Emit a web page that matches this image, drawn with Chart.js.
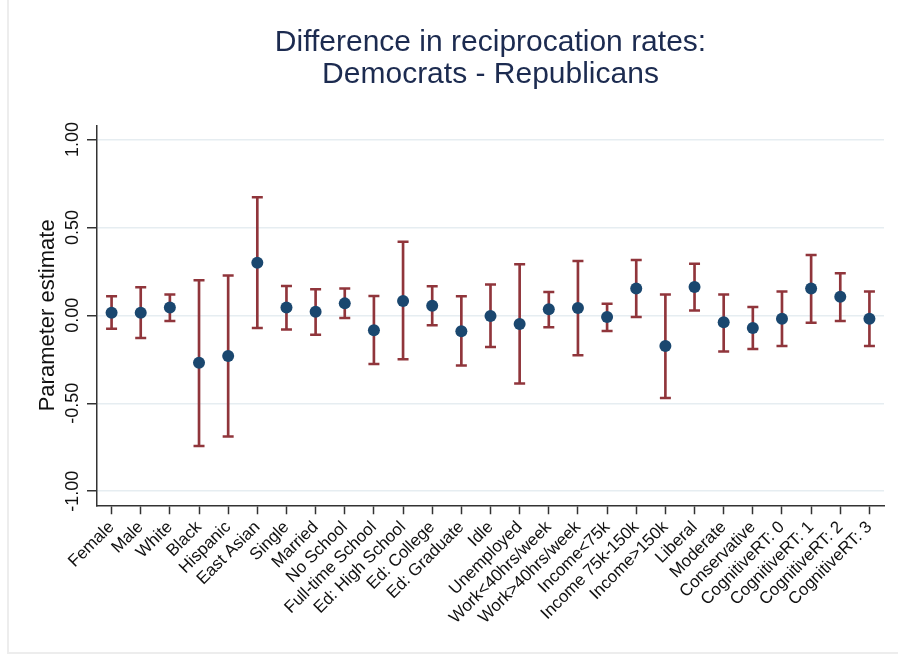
<!DOCTYPE html>
<html>
<head>
<meta charset="utf-8">
<script src="https://cdn.jsdelivr.net/npm/chart.js@4.4.0/dist/chart.umd.min.js"></script>
<style>
  html, body { margin: 0; padding: 0; background: #fff; }
  #wrap { position: relative; width: 898px; height: 654px; overflow: hidden; }
  #frame { position: absolute; left: 7px; top: -4px; width: 900px; height: 658px; box-sizing: border-box; border: 2px solid #ededed; }
  canvas { position: absolute; left: 0; top: 0; }
</style>
</head>
<body>
<div id="wrap">
  <div id="frame"></div>
  <canvas id="chart" width="898" height="654"></canvas>
</div>
<script>
const categories = ['Female', 'Male', 'White', 'Black', 'Hispanic', 'East Asian', 'Single', 'Married',
    'No School', 'Full-time School', 'Ed: High School', 'Ed: College', 'Ed: Graduate', 'Idle',
    'Unemployed', 'Work<40hrs/week', 'Work>40hrs/week', 'Income<75k', 'Income 75k-150k',
    'Income>150k', 'Liberal', 'Moderate', 'Conservative', 'CognitiveRT: 0', 'CognitiveRT: 1',
    'CognitiveRT: 2', 'CognitiveRT: 3'];

// punto estimado e intervalo de confianza
const estimates = [0.015, 0.015, 0.044, -0.269, -0.231, 0.299, 0.044, 0.021, 0.068, -0.085, 0.081, 0.055,
    -0.091, -0.004, -0.049, 0.034, 0.042, -0.010, 0.152, -0.174, 0.161, -0.040, -0.072, -0.019, 0.152,
    0.106, -0.019];
const upper = [0.108, 0.159, 0.119, 0.200, 0.227, 0.672, 0.167, 0.148, 0.152, 0.110, 0.419, 0.165,
    0.108, 0.176, 0.290, 0.132, 0.309, 0.066, 0.314, 0.119, 0.294, 0.118, 0.047, 0.136, 0.343,
    0.239, 0.136];
const lower = [-0.076, -0.129, -0.032, -0.743, -0.689, -0.072, -0.080, -0.110, -0.015, -0.277, -0.250,
    -0.057, -0.286, -0.180, -0.388, -0.068, -0.227, -0.089, -0.010, -0.470, 0.028, -0.205, -0.191,
    -0.174, -0.042, -0.032, -0.174];

const yTicks = [-1, -0.5, 0, 0.5, 1];
const titleLines = ['Difference in reciprocation rates:', 'Democrats - Republicans'];
const yTitle = 'Parameter estimate';

const navy = '#1a476f';
const maroon = '#90353b';
const font = "'Liberation Sans', Arial, sans-serif";

new Chart(document.getElementById('chart'), {
    data: {
        labels: categories,
        datasets: [
            {
                type: 'line',
                data: estimates,
                showLine: false,
                pointRadius: 6,
                pointBackgroundColor: navy,
                pointBorderColor: navy,
                pointBorderWidth: 0,
                order: 0
            },
            {
                type: 'line',
                data: upper,
                showLine: false,
                pointStyle: 'line',
                pointRadius: 5.5,
                pointBorderColor: maroon,
                pointBorderWidth: 2.5,
                order: 1
            },
            {
                type: 'line',
                data: lower,
                showLine: false,
                pointStyle: 'line',
                pointRadius: 5.5,
                pointBorderColor: maroon,
                pointBorderWidth: 2.5,
                order: 1
            },
            {
                type: 'bar',
                data: lower.map((lo, i) => [lo, upper[i]]),
                backgroundColor: maroon,
                barThickness: 2,
                order: 2
            }
        ]
    },
    options: {
        responsive: false,
        animation: false,
        layout: { padding: { top: 26, left: 31, right: 14, bottom: 23 } },
        plugins: {
            legend: { display: false },
            tooltip: { enabled: false },
            title: {
                display: true,
                fullSize: false,
                text: titleLines,
                color: '#1c2b50',
                font: { family: font, size: 30, weight: 'normal', lineHeight: 1.09 },
                padding: { top: 0, bottom: 34 }
            }
        },
        scales: {
            x: {
                type: 'category',
                offset: true,
                border: { display: true, color: '#333', width: 1.5 },
                grid: { offset: false, drawOnChartArea: false, drawTicks: true, tickLength: 9, tickColor: '#333', tickWidth: 1.5 },
                ticks: {
                    minRotation: 45,
                    maxRotation: 45,
                    autoSkip: false,
                    padding: 3,
                    color: '#111',
                    font: { family: font, size: 17 }
                }
            },
            y: {
                min: -1.08,
                max: 1.08,
                afterBuildTicks: axis => { axis.ticks = yTicks.map(v => ({ value: v })); },
                border: { display: true, color: '#333', width: 1.5 },
                grid: { color: '#e6edf1', lineWidth: 1.5, drawTicks: true, tickLength: 10, tickColor: '#333', tickWidth: 1.5 },
                ticks: {
                    minRotation: 90,
                    maxRotation: 90,
                    crossAlign: 'center',
                    padding: -6.5,
                    color: '#111',
                    font: { family: font, size: 18 },
                    callback: v => v.toFixed(2)
                },
                title: {
                    display: true,
                    text: yTitle,
                    color: '#111',
                    font: { family: font, size: 22 },
                    padding: { top: 4, bottom: 17 }
                }
            }
        }
    }
});
</script>
</body>
</html>
